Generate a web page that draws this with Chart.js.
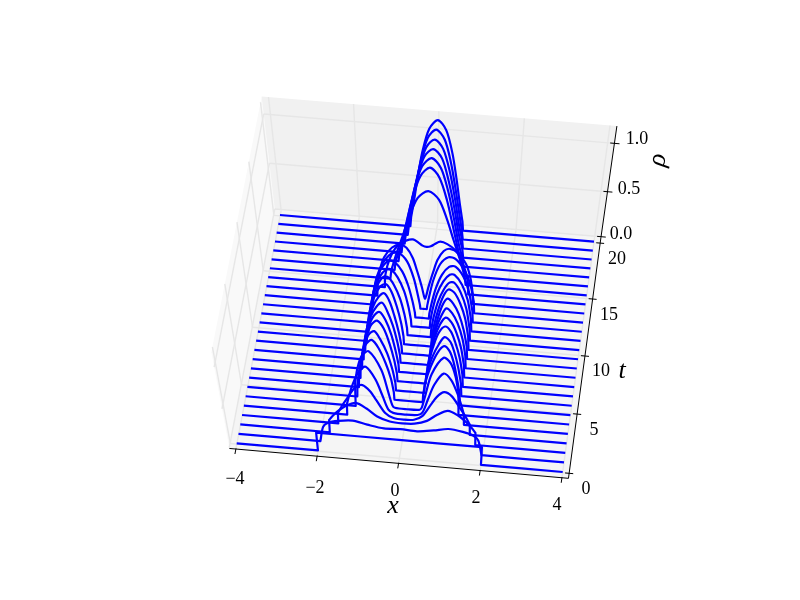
<!DOCTYPE html>
<html><head><meta charset="utf-8">
<style>html,body{margin:0;padding:0;background:#fff}canvas{display:block}</style>
<script src="https://cdn.jsdelivr.net/npm/chart.js@4/dist/chart.umd.min.js"></script>
</head><body><canvas id="c" width="800" height="600"></canvas>
<script>
// Half profiles: x >= 0 for each time step, mirrored about x = 0.
const timeStep = 0.8;
const xRows = [
[0,2,2,4],
[0,.4,.8,1.15,1.5,1.75,1.88,1.98,4],
[0,.3,.6,.85,1.1,1.35,1.55,1.7,1.78,1.79,4],
[0,.25,.45,.65,.8,.97,1.15,1.35,1.5,1.61,1.62,4],
[0,.3,.42,.55,.7,.92,1.1,1.25,1.35,1.43,1.44,4],
[0,.3,.36,.45,.6,.88,1.05,1.17,1.25,1.26,1.27,4],
[0,.35,.36,.42,.54,.7,.85,.98,1.08,1.17,1.25,1.27,4],
[0,.35,.36,.42,.54,.7,.83,.97,1.07,1.17,1.25,1.27,4],
[0,.35,.36,.42,.52,.65,.8,.94,1.05,1.17,1.25,1.27,4],
[0,.35,.36,.42,.52,.65,.78,.92,1.05,1.17,1.25,1.27,4],
[0,.35,.36,.42,.52,.65,.76,.9,1.04,1.17,1.25,1.27,4],
[0,.35,.36,.42,.52,.63,.75,.89,1.03,1.16,1.25,1.27,4],
[0,.34,.35,.4,.5,.62,.74,.88,1.03,1.16,1.25,1.27,4],
[0,.29,.3,.36,.46,.6,.73,.85,1,1.15,1.25,1.27,4],
[0,.23,.24,.3,.4,.55,.7,.82,1,1.15,1.25,1.27,4],
[0,.17,.18,.24,.34,.48,.65,.8,1,1.15,1.25,1.27,4],
[0,.08,.09,.14,.24,.4,.6,.78,1,1.15,1.25,1.27,4],
[0,.03,.08,.14,.2,.3,.45,.6,.8,1,1.12,1.19,1.2,4],
[0,.1,.2,.33,.5,.7,.85,.97,1.04,1.05,4],
[0,.25,.45,.62,.78,.92,.95,4],
[0,.22,.41,.57,.72,.85,.88,4],
[0,.22,.4,.55,.68,.79,.82,4],
[0,.21,.38,.53,.65,.75,.78,4],
[0,.2,.37,.51,.62,.71,.74,4],
[0,.2,.36,.49,.6,.67,.7,4],
[0,.2,.36,.48,.58,.65,.67,4]
];
const rhoRows = [
[.235,.235,0,0],
[.25,.24,.27,.305,.285,.25,.19,0,0],
[.2,.21,.26,.35,.41,.36,.285,.21,.16,0,0],
[.125,.135,.19,.34,.45,.515,.475,.34,.23,.135,0,0],
[.067,.076,.115,.285,.475,.62,.55,.4,.265,.135,0,0],
[.014,.02,.048,.21,.48,.69,.63,.48,.29,.17,0,0],
[0,0,.095,.26,.45,.625,.71,.66,.54,.355,.155,0,0],
[0,0,.095,.25,.45,.615,.7,.65,.53,.355,.155,0,0],
[0,0,.095,.26,.45,.625,.71,.66,.54,.355,.155,0,0],
[0,0,.095,.25,.45,.615,.7,.65,.53,.355,.155,0,0],
[0,0,.087,.25,.445,.61,.695,.645,.53,.35,.155,0,0],
[0,0,.087,.25,.445,.61,.695,.645,.53,.35,.155,0,0],
[0,0,.097,.25,.445,.61,.69,.66,.54,.37,.155,0,0],
[0,0,.087,.25,.43,.58,.66,.66,.56,.38,.145,0,0],
[0,0,.078,.233,.41,.56,.64,.64,.54,.37,.145,0,0],
[0,0,.058,.195,.37,.525,.62,.63,.525,.35,.136,0,0],
[0,0,.04,.155,.35,.535,.62,.605,.485,.33,.136,0,0],
[.01,.05,.148,.245,.335,.473,.58,.61,.57,.453,.295,.118,0,0],
[.505,.515,.545,.575,.555,.495,.395,.257,.12,0,0],
[1,.92,.72,.5,.3,.1,0,0],
[1.14,1.05,.82,.54,.27,.1,0,0],
[1.14,1.05,.82,.54,.27,.1,0,0],
[1.135,1.05,.82,.54,.27,.1,0,0],
[1.135,1.05,.82,.54,.27,.1,0,0],
[1.14,1.05,.82,.54,.27,.1,0,0],
[1.14,1.05,.82,.54,.27,.1,0,0]
];
const xTicks = [-4,-2,0,2,4];
const tTicks = [0,5,10,15,20];
const rhoTicks = [0,0.5,1];
const xTickLabels = ['\u22124','\u22122','0','2','4'];
const tTickLabels = ['0','5','10','15','20'];
const rhoTickLabels = ['0.0','0.5','1.0'];

// Camera calibration: where the corners of the floor (x=-4..4, t=0..20, rho=0) fall.
const floorA=[236.7,443.3], floorB=[562.7,472], floorC=[280,215], floorD=[594,241.7];
const vanish=[423,1480], heightGain=0.0699;
const boxX=[-4.16,4.16], boxT=[-.42,20.5], boxZ=[-.01,1.17];

const sx=floorA[0]-floorB[0]+floorD[0]-floorC[0], sy=floorA[1]-floorB[1]+floorD[1]-floorC[1];
const dx1=floorB[0]-floorD[0], dx2=floorC[0]-floorD[0], dy1=floorB[1]-floorD[1], dy2=floorC[1]-floorD[1];
const den=dx1*dy2-dx2*dy1, hg=(sx*dy2-dx2*sy)/den, hh=(dx1*sy-sx*dy1)/den;
const ha=floorB[0]-floorA[0]+hg*floorB[0], hb=floorC[0]-floorA[0]+hh*floorC[0], hc=floorA[0];
const hd=floorB[1]-floorA[1]+hg*floorB[1], he=floorC[1]-floorA[1]+hh*floorC[1], hf=floorA[1];
const wD=hg+hh+1;
function project(x,t,z){
  const u=(x+4)/8, v=t/20, w=hg*u+hh*v+1, k=-heightGain*wD*z;
  const W=w+k;
  return {x:(ha*u+hb*v+hc+k*vanish[0])/W, y:(hd*u+he*v+hf+k*vanish[1])/W};
}
// A point repeated twice makes a sharp corner (no spline rounding across a jump).
function isCorner(xs,rs,j){
  if(j===0) return false;
  const prev=rs[j-1], next=j+1<rs.length?rs[j+1]:rs[j];
  if(rs[j]===0 && (prev>0||next>0)) return true;
  if(j+1<xs.length && xs[j+1]-xs[j]<.03) return true;
  if(xs[j]-xs[j-1]<.03) return true;
  return false;
}
const datasets = xRows.map((xs,i)=>{
  const rs=rhoRows[i], pts=[], t=i*timeStep;
  for(let j=xs.length-1;j>=1;j--){const p=project(-xs[j],t,rs[j]);pts.push(p);if(isCorner(xs,rs,j))pts.push(p);}
  for(let j=0;j<xs.length;j++){const p=project(xs[j],t,rs[j]);pts.push(p);if(isCorner(xs,rs,j))pts.push(p);}
  return {data:pts,borderColor:'#0000ff',borderWidth:2.2,pointRadius:0,showLine:true,fill:false,
          tension:0.3,clip:false,borderJoinStyle:'round'};
});

const box3d={id:'box3d',beforeDatasetsDraw(chart){
  const g=chart.ctx, X=chart.scales.x, Y=chart.scales.y;
  const P=(x,t,z)=>{const p=project(x,t,z);return [X.getPixelForValue(p.x),Y.getPixelForValue(p.y)];};
  const poly=(pts,c)=>{g.fillStyle=c;g.beginPath();pts.forEach((p,i)=>i?g.lineTo(p[0],p[1]):g.moveTo(p[0],p[1]));g.closePath();g.fill();};
  const seg=(a,b,c,w)=>{g.strokeStyle=c;g.lineWidth=w;g.beginPath();g.moveTo(a[0],a[1]);g.lineTo(b[0],b[1]);g.stroke();};
  const [x0,x1]=boxX,[t0,t1]=boxT,[z0,z1]=boxZ;
  g.save();
  poly([P(x0,t0,z0),P(x0,t1,z0),P(x0,t1,z1),P(x0,t0,z1)],'#f9f9f9');
  poly([P(x0,t1,z0),P(x1,t1,z0),P(x1,t1,z1),P(x0,t1,z1)],'#f1f1f1');
  poly([P(x0,t0,z0),P(x1,t0,z0),P(x1,t1,z0),P(x0,t1,z0)],'#f5f5f5');
  const grid='#e6e6e6';
  xTicks.forEach(x=>{seg(P(x,t0,z0),P(x,t1,z0),grid,1.4);seg(P(x,t1,z0),P(x,t1,z1),grid,1.4);});
  tTicks.forEach(t=>{seg(P(x0,t,z0),P(x1,t,z0),grid,1.4);seg(P(x0,t,z0),P(x0,t,z1),grid,1.4);});
  rhoTicks.forEach(z=>{seg(P(x0,t0,z),P(x0,t1,z),grid,1.4);seg(P(x0,t1,z),P(x1,t1,z),grid,1.4);});
  seg(P(x0,t0,z0),P(x1,t0,z0),'#000',1);
  seg(P(x1,t0,z0),P(x1,t1,z0),'#000',1);
  seg(P(x1,t1,z0),P(x1,t1,z1),'#000',1);
  xTicks.forEach(x=>seg(P(x,t0+.05,z0),P(x,t0-.42,z0),'#000',1));
  tTicks.forEach(t=>seg(P(x1-.1,t,z0),P(x1+.1,t,z0),'#000',1));
  rhoTicks.forEach(z=>seg(P(x1-.1,t1,z),P(x1+.12,t1,z),'#000',1));
  g.fillStyle='#000';g.textAlign='center';g.textBaseline='middle';
  g.font='18px "Liberation Serif"';
  const xLab=[[235,479],[315,488],[395,491],[476,498],[557,505]];
  xTickLabels.forEach((s,i)=>g.fillText(s,xLab[i][0],xLab[i][1]));
  const tLab=[[586,489],[594,430],[601,371],[609,315],[617,259]];
  tTickLabels.forEach((s,i)=>g.fillText(s,tLab[i][0],tLab[i][1]));
  const zLab=[[621,234],[629,189],[637,139]];
  rhoTickLabels.forEach((s,i)=>g.fillText(s,zLab[i][0],zLab[i][1]));
  g.font='italic 26px "Liberation Serif"';
  g.fillText('x',393,506);
  g.fillText('t',622,371);
  g.save();g.translate(658,160);g.rotate(-80*Math.PI/180);g.fillText('\u03c1',0,0);g.restore();
  g.restore();
}};

new Chart(document.getElementById('c'),{
  type:'scatter',
  data:{datasets},
  plugins:[box3d],
  options:{responsive:false,animation:false,events:[],
    layout:{padding:0},
    plugins:{legend:{display:false},tooltip:{enabled:false},title:{display:false}},
    scales:{x:{type:'linear',min:0,max:800,display:false},
            y:{type:'linear',min:0,max:600,reverse:true,display:false}}}
});
</script></body></html>
